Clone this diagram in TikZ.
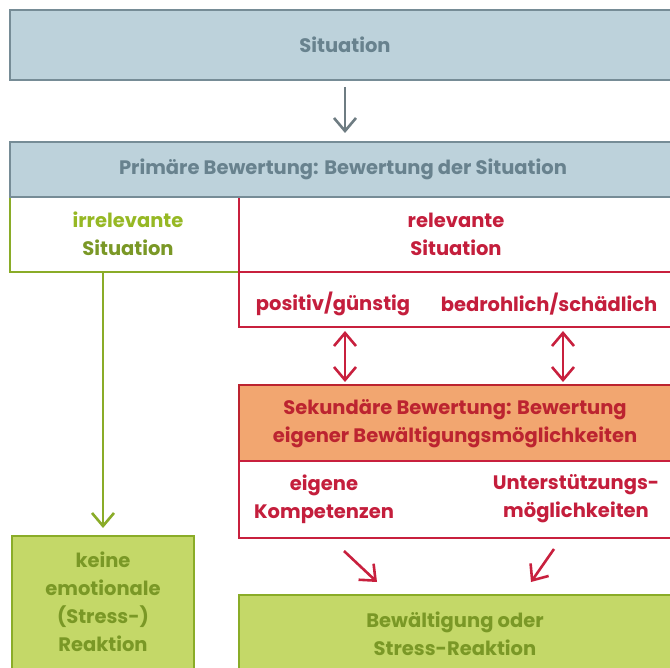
\documentclass[tikz,border=0pt]{standalone}
\usepackage{fontspec}
\setmainfont{Poppins}
\usetikzlibrary{arrows.meta}
\definecolor{bfill}{RGB}{189,210,219}
\definecolor{bdraw}{RGB}{118,140,150}
\definecolor{btext}{RGB}{104,130,142}
\definecolor{rline}{RGB}{200,32,62}
\definecolor{rtext}{RGB}{196,30,60}
\definecolor{ofill}{RGB}{242,166,112}
\definecolor{otext}{RGB}{188,36,48}
\definecolor{gfill}{RGB}{196,216,104}
\definecolor{gline}{RGB}{138,172,40}
\definecolor{gtext}{RGB}{122,152,38}
\definecolor{gtextlight}{RGB}{150,184,36}
\definecolor{garrow}{RGB}{110,124,130}
\begin{document}
\begin{tikzpicture}[x=1pt,y=-1pt,
  box/.style={rectangle,inner sep=0pt,line width=1.4pt,anchor=center},
  txt/.style={align=center,font=\fontsize{19.5}{28}\selectfont\bfseries,inner sep=0pt},
  barb/.tip={Straight Barb[length=13pt,width=22pt,line width=2.6pt]},
  tip/.style={-barb,line width=2.6pt},
  dtip/.style={barb-barb,line width=2.6pt}]
\useasboundingbox (0,0) rectangle (670,668);
\fill[white] (0,0) rectangle (670,668);
% boxes
\node[box,draw=bdraw,fill=bfill,minimum width=670pt,minimum height=70pt] (sit) at (345,45) {};
\node[box,draw=gline,minimum width=229pt,minimum height=75pt] (irr) at (124.5,234.5) {};
\node[box,draw=rline,minimum width=441pt,minimum height=75pt] (rel) at (459.5,234.5) {};
\node[box,draw=rline,minimum width=441pt,minimum height=55pt] (pos) at (459.5,299.5) {};
\node[box,draw=bdraw,fill=bfill,minimum width=670pt,minimum height=55pt] (prim) at (345,169.5) {};
\node[box,draw=otext,fill=ofill,minimum width=441pt,minimum height=76pt] (sek) at (459.5,423) {};
\node[box,draw=rline,minimum width=441pt,minimum height=77pt] (eig) at (459.5,499.5) {};
\node[box,draw=gline,fill=gfill,minimum width=182pt,minimum height=144pt] (keine) at (103,608) {};
\node[box,draw=gline,fill=gfill,minimum width=441pt,minimum height=85pt] (bew) at (459.5,637.5) {};
% texts
\node[txt,text=btext] (tsit) at (345,45) {Situation};
\node[txt,text=btext] (tprim) at (343,169) {Primäre Bewertung: Bewertung der Situation};
\node[txt,text=gtext] (tirr) at (128,234) {\textcolor{gtextlight}{irrelevante}\\Situation};
\node[txt,text=rtext] (trel) at (456,234) {relevante\\Situation};
\node[txt,text=rtext] (tpos) at (333,304) {positiv/günstig};
\node[txt,text=rtext] (tbed) at (549,304) {bedrohlich/schädlich};
\node[txt,text=otext] (tsek) at (455,424) {Sekundäre Bewertung: Bewertung\\eigener Bewältigungsmöglichkeiten};
\node[txt,text=rtext] (teig) at (324,499) {eigene\\Kompetenzen};
\node[txt,text=rtext] (tunt) at (576,499) {Unterstützungs-\\möglichkeiten};
\node[txt,text=gtext] (tkei) at (103,602) {keine\\emotionale\\(Stress-)\\Reaktion};
\node[txt,text=gtext] (tbew) at (455,634) {Bewältigung oder\\Stress-Reaktion};
% connector ends
\coordinate (a1) at (345,87);  \coordinate (a2) at (345,133);
\coordinate (g1) at (103,273); \coordinate (g2) at (103,528);
\coordinate (d1a) at (345,331); \coordinate (d1b) at (345,382);
\coordinate (d2a) at (563,331); \coordinate (d2b) at (563,382);
\coordinate (s1a) at (344,551); \coordinate (s1b) at (377,582);
\coordinate (s2a) at (554,549); \coordinate (s2b) at (531,582);
\draw[tip,draw=garrow] (a1) -- (a2);
\draw[tip,draw=gline] (g1) -- (g2);
\draw[dtip,draw=rline] (d1a) -- (d1b);
\draw[dtip,draw=rline] (d2a) -- (d2b);
\draw[tip,draw=rline] (s1a) -- (s1b);
\draw[tip,draw=rline] (s2a) -- (s2b);
\end{tikzpicture}
\end{document}
